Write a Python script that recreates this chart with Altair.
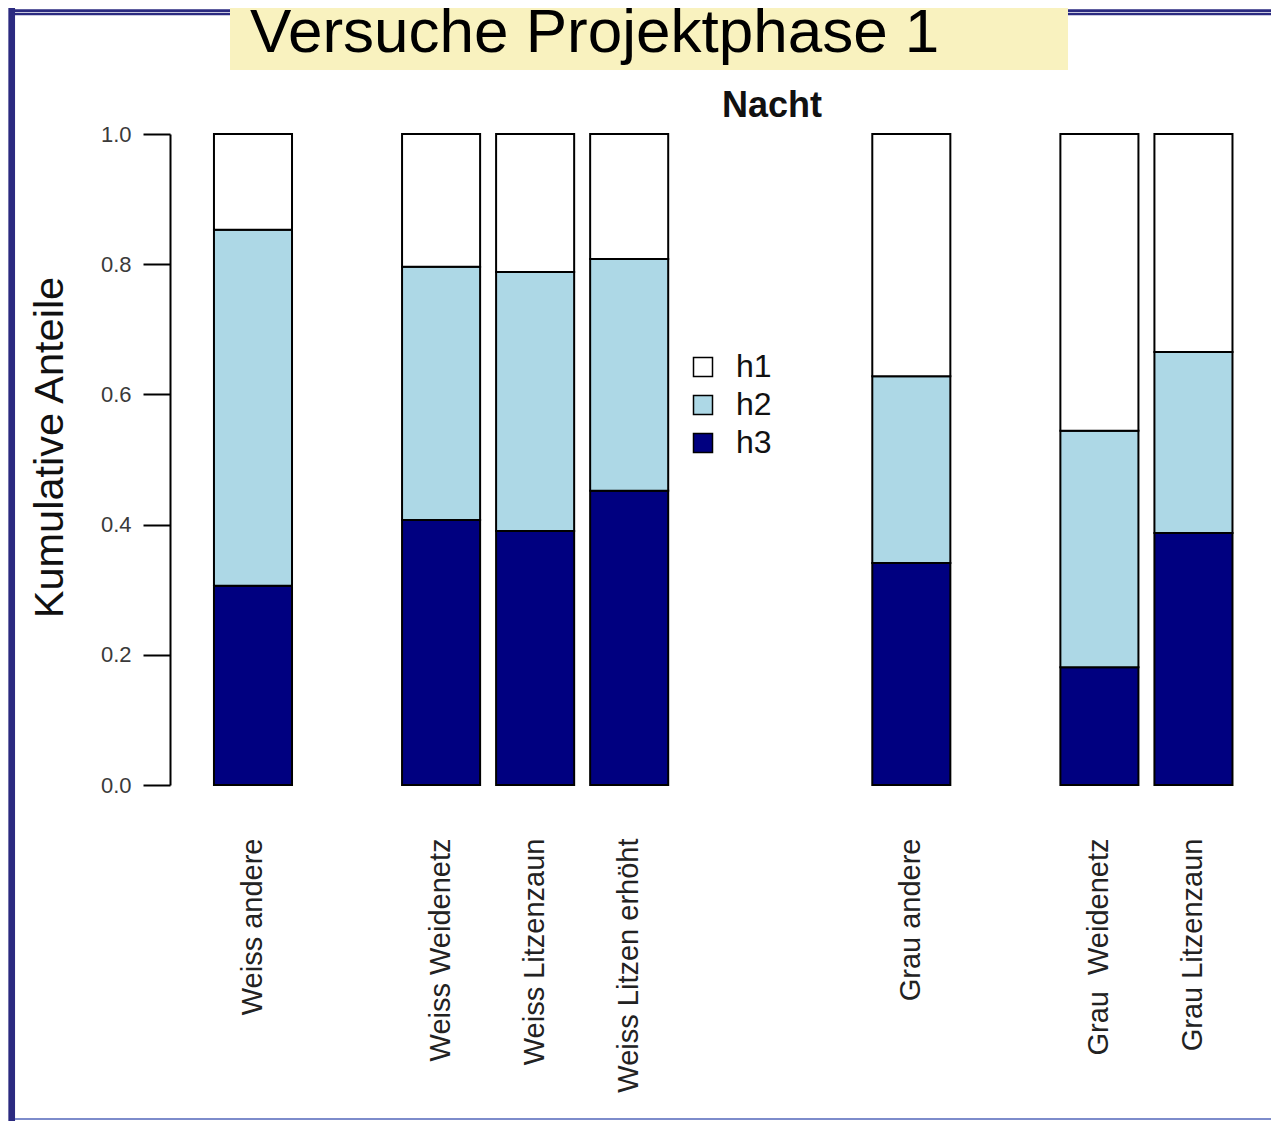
import altair as alt
import pandas as pd

# ---- data ----
categories = ["Weiss andere", "Weiss Weidenetz", "Weiss Litzenzaun", "Weiss Litzen erhöht",
              "Grau andere", "Grau\u00a0 Weidenetz", "Grau Litzenzaun"]
# band slots of the x axis (gaps between the groups are empty slots)
slots = ["Weiss andere", "gap1", "Weiss Weidenetz", "Weiss Litzenzaun", "Weiss Litzen erhöht",
         "gap2", "gap3", "Grau andere", "gap4", "Grau\u00a0 Weidenetz", "Grau Litzenzaun"]
classes = ["h1", "h2", "h3"]
class_colors = ["#FFFFFF", "#ADD8E6", "#000080"]
stack_rank = {"h3": 0, "h2": 1, "h1": 2}

share_h3 = [0.306, 0.407, 0.390, 0.452, 0.341, 0.181, 0.387]
share_h2 = [0.547, 0.389, 0.398, 0.356, 0.287, 0.363, 0.278]
share_h1 = [0.147, 0.204, 0.212, 0.192, 0.372, 0.456, 0.335]

y_ticks = [0.0, 0.2, 0.4, 0.6, 0.8, 1.0]

rows = []
for i, c in enumerate(categories):
    for cl, vals in (("h3", share_h3), ("h2", share_h2), ("h1", share_h1)):
        rows.append({"cat": c, "klasse": cl, "anteil": vals[i], "ord": stack_rank[cl]})
df = pd.DataFrame(rows)

FONT = "Liberation Sans"
one = pd.DataFrame({"d": [0]})

bars = alt.Chart(df).mark_bar(stroke="black", strokeWidth=2).encode(
    x=alt.X("cat:N", sort=slots,
            scale=alt.Scale(domain=slots, paddingInner=0.17, paddingOuter=0.4385, align=0.533),
            axis=alt.Axis(title=None, domain=False, ticks=False, tickSize=0,
                          labelAngle=270, labelPadding=53, labelFontSize=29,
                          labelFont=FONT, labelColor="#222222", labelLimit=0,
                          labelExpr="indexof(datum.label, 'gap') === 0 ? '' : datum.label")),
    y=alt.Y("anteil:Q", stack="zero",
            scale=alt.Scale(domain=[0, 1], nice=False),
            axis=alt.Axis(title="Kumulative Anteile", values=y_ticks, format=".1f",
                          grid=False, domainColor="black", domainWidth=2,
                          tickColor="black", tickWidth=2, tickSize=27,
                          labelPadding=12, labelFontSize=22, labelFont=FONT,
                          labelColor="#3a3a3a",
                          titleFont=FONT, titleFontSize=41.5, titleFontWeight="normal",
                          titleColor="#111111", titleAngle=270, titleX=-108, titleY=313,
                          titleAlign="center", titleBaseline="alphabetic")),
    color=alt.Color("klasse:N",
                    scale=alt.Scale(domain=classes, range=class_colors),
                    legend=alt.Legend(title=None, orient="none", legendX=517, legendY=217,
                                      symbolType="square", symbolSize=361,
                                      symbolStrokeColor="black", symbolStrokeWidth=1.5,
                                      labelFontSize=32, labelFont=FONT, labelColor="#111111",
                                      labelOffset=17, rowPadding=6, padding=0)),
    order=alt.Order("ord:Q"),
)

def rule(x1, x2, y1, y2, color, w):
    return alt.Chart(one).mark_rule(color=color, strokeWidth=w).encode(
        x=alt.value(x1), x2=alt.value(x2), y=alt.value(y1), y2=alt.value(y2))

frame_top1 = rule(-158, 1105, -123.3, -123.3, "#2B2A80", 2.7)
frame_top2 = rule(-158, 1105, -120, -120, "#2B2A80", 2.6)
frame_left = rule(-158.3, -158.3, -126, 1000, "#2B2A80", 6.7)
frame_bottom = rule(-155, 1105, 985, 985, "#7D8CCB", 2)

header_box = alt.Chart(one).mark_rect(color="#F9F2BF").encode(
    x=alt.value(60), x2=alt.value(898), y=alt.value(-140), y2=alt.value(-64))

header_text = alt.Chart(pd.DataFrame({"t": ["Versuche Projektphase 1"]})).mark_text(
    align="left", baseline="alphabetic", font=FONT, fontSize=62, color="black").encode(
    x=alt.value(80), y=alt.value(-82), text="t:N")

panel_title = alt.Chart(pd.DataFrame({"t": ["Nacht"]})).mark_text(
    align="center", baseline="alphabetic", font=FONT, fontSize=36, fontWeight="bold",
    color="#111111").encode(
    x=alt.value(602), y=alt.value(-17), text="t:N")

chart = alt.layer(
    frame_top1, frame_top2, frame_left, frame_bottom,
    header_box, header_text, bars, panel_title
).properties(
    width=1101, height=651,
    autosize=alt.AutoSizeParams(type="none"),
    padding={"left": 162, "top": 126, "right": 0, "bottom": 336},
    background="white",
).configure_view(strokeWidth=0)

chart.save("out.html", embed_options={"renderer": "svg", "actions": False})
